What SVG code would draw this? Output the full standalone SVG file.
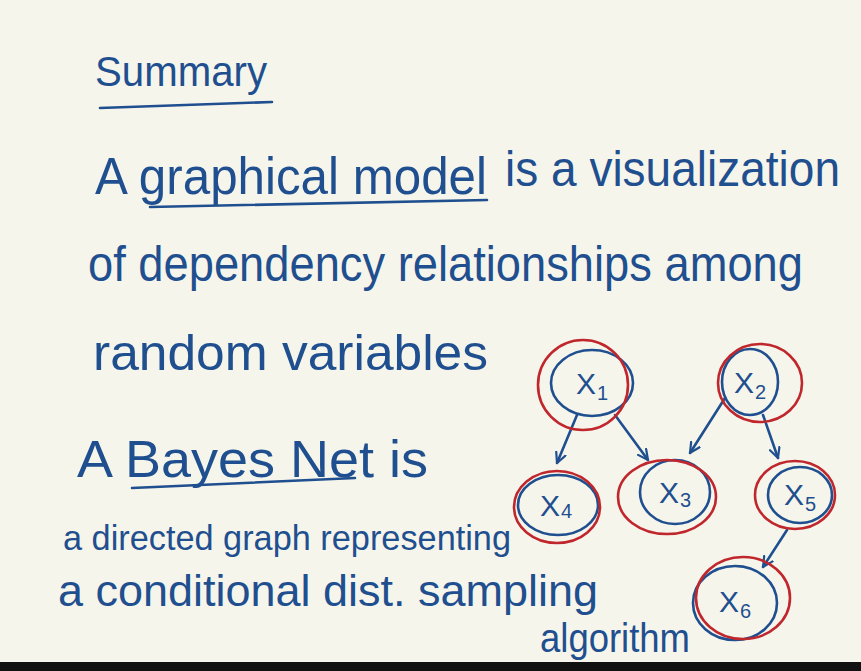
<svg xmlns="http://www.w3.org/2000/svg" width="861" height="671" viewBox="0 0 861 671">
<defs>
<style>
.t{font-family:"Liberation Sans","DejaVu Sans",sans-serif;fill:#1f4f8f;}
.u{stroke:#1f4f8f;stroke-width:2.6;fill:none;stroke-linecap:round;}
.b{stroke:#1f4f8f;stroke-width:2.6;fill:none;}
.r{stroke:#c0272d;stroke-width:2.6;fill:none;}
.lbl{font-family:"Liberation Sans","DejaVu Sans",sans-serif;fill:#1f4f8f;font-size:30px;text-anchor:middle;}
.e{stroke:#1f4f8f;stroke-width:2.6;fill:none;stroke-linecap:round;}
</style>
<marker id="ah" viewBox="0 0 12 12" refX="11" refY="6" markerWidth="12" markerHeight="12" markerUnits="userSpaceOnUse" orient="auto">
<path d="M1,1 L11,6 L1,11" fill="none" stroke="#1f4f8f" stroke-width="2.2" stroke-linecap="round"/>
</marker>
</defs>
<rect x="0" y="0" width="861" height="671" fill="#f6f5ec"/>
<rect x="0" y="662" width="861" height="9" fill="#111"/>

<g id="text">
<text class="t" x="95" y="86" font-size="42" textLength="172" lengthAdjust="spacingAndGlyphs">Summary</text>
<path class="u" d="M100,108 L272,102"/>
<text class="t" x="95" y="194" font-size="52" textLength="392" lengthAdjust="spacingAndGlyphs">A graphical model</text>
<path class="u" d="M150,207 L487,200"/>
<text class="t" x="505" y="186" font-size="50" textLength="335" lengthAdjust="spacingAndGlyphs">is a visualization</text>
<text class="t" x="88" y="281" font-size="50" textLength="715" lengthAdjust="spacingAndGlyphs">of dependency relationships among</text>
<text class="t" x="93" y="370" font-size="50" textLength="395" lengthAdjust="spacingAndGlyphs">random variables</text>
<text class="t" x="77" y="477" font-size="52" textLength="351" lengthAdjust="spacingAndGlyphs">A Bayes Net is</text>
<path class="u" d="M132,488 L355,478"/>
<text class="t" x="63" y="550" font-size="35" textLength="448" lengthAdjust="spacingAndGlyphs">a directed graph representing</text>
<text class="t" x="58" y="606" font-size="44" textLength="540" lengthAdjust="spacingAndGlyphs">a conditional dist. sampling</text>
<text class="t" x="540" y="652" font-size="40" textLength="150" lengthAdjust="spacingAndGlyphs">algorithm</text>
</g>

<g id="connectors">
<path class="e" d="M577,415 L557,463" marker-end="url(#ah)"/>
<path class="e" d="M615,415 L648,460" marker-end="url(#ah)"/>
<path class="e" d="M725,398 L690,453" marker-end="url(#ah)"/>
<path class="e" d="M763,415 L778,458" marker-end="url(#ah)"/>
<path class="e" d="M787,530 L763,567" marker-end="url(#ah)"/>
</g>

<g id="X1">
<ellipse class="b" cx="592" cy="383" rx="41" ry="33"/>
<ellipse class="r" cx="583" cy="385" rx="45" ry="45"/>
<text class="lbl" x="592" y="394">X<tspan font-size="20" dy="6" dx="1">1</tspan></text>
</g>
<g id="X2">
<ellipse class="b" cx="750" cy="382" rx="28" ry="33"/>
<ellipse class="r" cx="760" cy="383" rx="42" ry="39"/>
<text class="lbl" x="750" y="393">X<tspan font-size="20" dy="6" dx="1">2</tspan></text>
</g>
<g id="X4">
<ellipse class="b" cx="558" cy="505" rx="40" ry="30"/>
<ellipse class="r" cx="557" cy="507" rx="43" ry="36"/>
<text class="lbl" x="556" y="516">X<tspan font-size="20" dy="2" dx="1">4</tspan></text>
</g>
<g id="X3">
<ellipse class="b" cx="675" cy="492" rx="35" ry="32"/>
<ellipse class="r" cx="667" cy="497" rx="49" ry="37"/>
<text class="lbl" x="675" y="503">X<tspan font-size="20" dy="4" dx="1">3</tspan></text>
</g>
<g id="X5">
<ellipse class="b" cx="800" cy="495" rx="32" ry="28"/>
<ellipse class="r" cx="795" cy="495" rx="40" ry="34"/>
<text class="lbl" x="800" y="505">X<tspan font-size="20" dy="6" dx="1">5</tspan></text>
</g>
<g id="X6">
<ellipse class="b" cx="735" cy="603" rx="42" ry="37"/>
<ellipse class="r" cx="743" cy="598" rx="47" ry="41"/>
<text class="lbl" x="735" y="612">X<tspan font-size="20" dy="6" dx="1">6</tspan></text>
</g>
</svg>
